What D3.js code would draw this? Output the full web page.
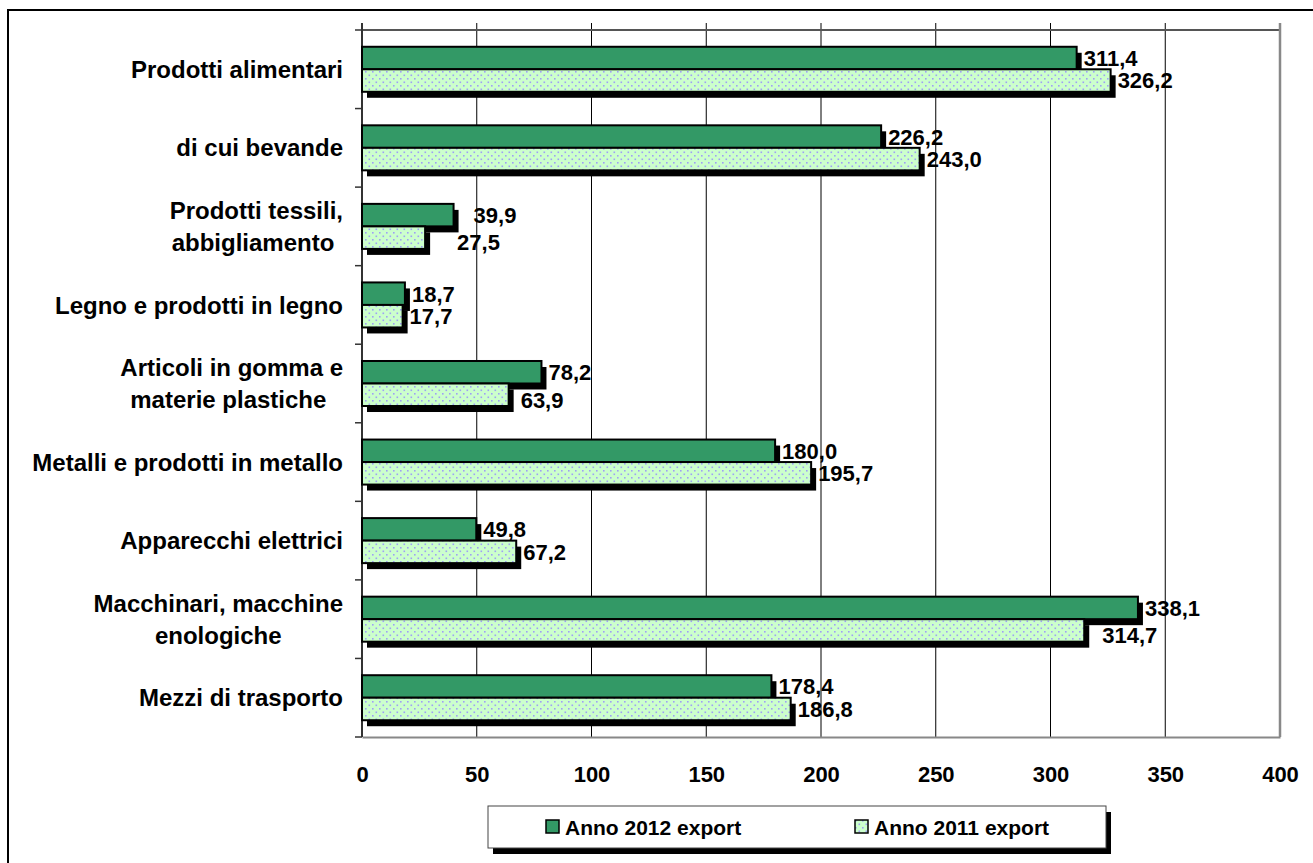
<!DOCTYPE html>
<html>
<head>
<meta charset="utf-8">
<script src="https://cdn.jsdelivr.net/npm/d3@7"></script>
<style>
  html, body { margin: 0; padding: 0; background: #fff; }
  svg { display: block; font-family: "Liberation Sans", Arial, sans-serif; font-weight: bold; }
</style>
</head>
<body>
<script>
// Export by product sector (values in millions)
const categories = [
  "Prodotti alimentari",
  "di cui bevande",
  "Prodotti tessili,\nabbigliamento ",
  "Legno e prodotti in legno",
  "Articoli in gomma e\nmaterie plastiche ",
  "Metalli e prodotti in metallo",
  "Apparecchi elettrici",
  "Macchinari, macchine\nenologiche",
  "Mezzi di trasporto"
];
const export2012 = [311.4, 226.2, 39.9, 18.7, 78.2, 180.0, 49.8, 338.1, 178.4];
const export2011 = [326.2, 243.0, 27.5, 17.7, 63.9, 195.7, 67.2, 314.7, 186.8];
const seriesNames = ["Anno 2012 export", "Anno 2011 export"];
const xTicks = [0, 50, 100, 150, 200, 250, 300, 350, 400];

const W = 1313, H = 863;
const plot = { left: 362, right: 1280, top: 30, bottom: 737 };
const shadowDx = 5, shadowDy = 6;

const svg = d3.select("body").append("svg").attr("width", W).attr("height", H);

// Dotted fill used by the 2011 series
const defs = svg.append("defs");
const pat = defs.append("pattern").attr("id", "dots")
  .attr("patternUnits", "userSpaceOnUse").attr("width", 7).attr("height", 7);
pat.append("rect").attr("width", 7).attr("height", 7).attr("fill", "#ccffcc");
pat.append("rect").attr("x", 1).attr("y", 1).attr("width", 1.6).attr("height", 1.6).attr("fill", "#9f9ff5");
pat.append("rect").attr("x", 4.5).attr("y", 4.5).attr("width", 1.6).attr("height", 1.6).attr("fill", "#9f9ff5");

const fills = ["#339966", "url(#dots)"];

// Outer chart frame
svg.append("rect").attr("x", 8).attr("y", 10).attr("width", W + 20).attr("height", H + 20)
  .attr("fill", "none").attr("stroke", "#000").attr("stroke-width", 2);

const x = d3.scaleLinear().domain([0, 400]).range([plot.left, plot.right]);
const y = d3.scaleBand().domain(categories).range([plot.top, plot.bottom])
  .paddingInner(0.427).paddingOuter(0.2135);
const ySub = d3.scaleBand().domain([0, 1]).range([0, y.bandwidth()]);

// Vertical gridlines
svg.append("g").selectAll("line").data(xTicks.slice(1, -1)).join("line")
  .attr("x1", d => x(d)).attr("x2", d => x(d))
  .attr("y1", plot.top - 7).attr("y2", plot.bottom)
  .attr("stroke", "#000").attr("stroke-width", 1);

// Plot border: top and right
svg.append("line").attr("x1", plot.left).attr("x2", plot.right)
  .attr("y1", plot.top).attr("y2", plot.top).attr("stroke", "#555").attr("stroke-width", 2);
svg.append("line").attr("x1", plot.right).attr("x2", plot.right)
  .attr("y1", plot.top - 7).attr("y2", plot.bottom).attr("stroke", "#888").attr("stroke-width", 2.5);

// Bottom value axis
const xAxis = svg.append("g").attr("transform", `translate(0,${plot.bottom})`)
  .call(d3.axisBottom(x).tickValues(xTicks).tickSize(0).tickPadding(29).tickFormat(d3.format("d")));
xAxis.select(".domain").attr("stroke", "#888").attr("stroke-width", 2);
xAxis.selectAll("text").attr("font-size", 22).attr("font-weight", "bold")
  .attr("font-family", "'Liberation Sans', Arial, sans-serif").attr("fill", "#000");

// Category axis with ticks between groups
const bounds = d3.range(categories.length + 1).map(i => plot.top + i * y.step());
svg.append("line").attr("x1", plot.left).attr("x2", plot.left)
  .attr("y1", plot.top - 7).attr("y2", plot.bottom).attr("stroke", "#333").attr("stroke-width", 2);
svg.append("g").selectAll("line").data(bounds).join("line")
  .attr("x1", plot.left - 7).attr("x2", plot.left)
  .attr("y1", d => d).attr("y2", d => d).attr("stroke", "#333").attr("stroke-width", 1.5);

const series = [export2012, export2011];

// Shadows behind bars
const gShadow = svg.append("g");
series.forEach((vals, s) => {
  gShadow.selectAll(null).data(vals).join("rect")
    .attr("x", x(0) + shadowDx)
    .attr("y", (d, i) => y(categories[i]) + ySub(s) + shadowDy)
    .attr("width", d => x(d) - x(0))
    .attr("height", ySub.bandwidth())
    .attr("fill", "#000");
});

// Bars
const gBars = svg.append("g");
series.forEach((vals, s) => {
  gBars.selectAll(null).data(vals).join("rect")
    .attr("x", x(0))
    .attr("y", (d, i) => y(categories[i]) + ySub(s))
    .attr("width", d => x(d) - x(0))
    .attr("height", ySub.bandwidth())
    .attr("fill", fills[s])
    .attr("stroke", "#000").attr("stroke-width", 2);
});

// Value labels (Italian decimal comma)
const it = d3.formatLocale({ decimal: ",", thousands: ".", grouping: [3], currency: ["€", ""] });
const fmt = it.format(".1f");
// Labels that sit further out from their bar
const nudge = { "0-2": [13, 0], "1-2": [25, 4], "1-4": [5, 5], "1-7": [11, 5] };
const gLab = svg.append("g");
series.forEach((vals, s) => {
  gLab.selectAll(null).data(vals).join("text")
    .attr("x", (d, i) => x(d) + 7 + (nudge[`${s}-${i}`] || [0, 0])[0])
    .attr("y", (d, i) => y(categories[i]) + ySub(s) + ySub.bandwidth() / 2 + (nudge[`${s}-${i}`] || [0, 0])[1])
    .attr("dy", "0.36em")
    .attr("font-size", 22)
    .text(d => fmt(d));
});

// Category labels, multi-line ones centred as a block
const gCat = svg.append("g");
categories.forEach(c => {
  const lines = c.split("\n");
  const cy = y(c) + y.bandwidth() / 2;
  const lh = 32;
  if (lines.length === 1) {
    gCat.append("text").attr("x", 343).attr("y", cy).attr("dy", "0.36em")
      .attr("text-anchor", "end").attr("font-size", 24).text(c);
  } else {
    const t = gCat.append("text").attr("font-size", 24).attr("text-anchor", "middle")
      .attr("xml:space", "preserve");
    lines.forEach((ln, k) => {
      t.append("tspan").attr("y", cy + (k - (lines.length - 1) / 2) * lh).attr("dy", "0.36em").text(ln);
    });
    // place block so its widest line ends at the axis label edge
    const w = d3.max(t.selectAll("tspan").nodes(), n => n.getComputedTextLength());
    t.selectAll("tspan").attr("x", 343 - w / 2);
  }
});

// Legend
const lg = { x: 488, y: 806, w: 618, h: 42 };
svg.append("rect").attr("x", lg.x + shadowDx).attr("y", lg.y + shadowDy)
  .attr("width", lg.w).attr("height", lg.h).attr("fill", "#000");
svg.append("rect").attr("x", lg.x).attr("y", lg.y).attr("width", lg.w).attr("height", lg.h)
  .attr("fill", "#fff").attr("stroke", "#444").attr("stroke-width", 1);
const itemX = [546, 855];
seriesNames.forEach((name, s) => {
  svg.append("rect").attr("x", itemX[s]).attr("y", lg.y + 14).attr("width", 13).attr("height", 13)
    .attr("fill", fills[s]).attr("stroke", "#000").attr("stroke-width", 1.5);
  svg.append("text").attr("x", itemX[s] + 19).attr("y", lg.y + lg.h / 2).attr("dy", "0.36em")
    .attr("font-size", 21).text(name);
});
</script>
</body>
</html>
